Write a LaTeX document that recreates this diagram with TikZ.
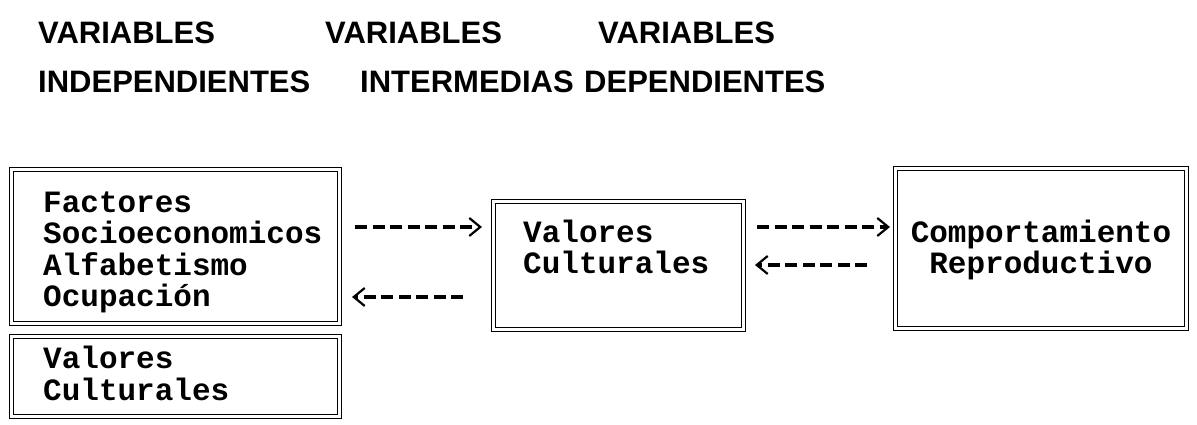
\documentclass[tikz,border=0pt]{standalone}
\usepackage{fontspec}
\setmainfont{Liberation Sans}
\setmonofont{Liberation Mono}
\usepackage{tikz}
\usetikzlibrary{arrows.meta,calc,positioning}

\begin{document}
\begin{tikzpicture}[x=1pt,y=-1pt,
	head/.style={font=\fontsize{31}{31}\selectfont\bfseries,anchor=base west,inner sep=0},
	box/.style={draw,double,line width=1.4pt,double distance=2.6pt,inner sep=0,outer sep=0,anchor=north west},
	txt/.style={font=\fontsize{31}{31.5}\selectfont\ttfamily\bfseries,align=left,inner sep=0,anchor=base west},
	dasharrow/.style={line width=3.2pt,dash pattern=on 12pt off 5.5pt,-{Straight Barb[length=11pt,width=18pt,line width=2.2pt]}}]
	\useasboundingbox (0,0) rectangle (1197,425);
	% encabezados
	\node[head] (v1) at (38,44) {VARIABLES};
	\node[head] (v2) at (325,44) {VARIABLES};
	\node[head] (v3) at (598,44) {VARIABLES};
	\node[head] (ind) at (38,93) {INDEPENDIENTES};
	\node[head] (inter) at (360,93) {INTERMEDIAS};
	\node[head] (dep) at (584,93) {DEPENDIENTES};
	% cajas
	\node[box,minimum width=328pt,minimum height=154pt] (factores) at (11.5,169.5) {};
	\node[box,minimum width=328pt,minimum height=80pt] (valizq) at (11.5,336.5) {};
	\node[box,minimum width=250pt,minimum height=128pt] (valores) at (493.5,201.5) {};
	\node[box,minimum width=291pt,minimum height=160pt] (comport) at (895.5,168.5) {};
	% textos (base = ultima linea)
	\node[txt] (tfac) at (43,306.5) {Factores\\Socioeconomicos\\Alfabetismo\\Ocupación};
	\node[txt] (tval) at (43,400) {Valores\\Culturales};
	\node[txt] (tvalm) at (523,273.5) {Valores\\Culturales};
	\node[txt,align=center,anchor=base] (tcom) at (1041,273.5) {Comportamiento\\Reproductivo};
	% flechas
	\coordinate (fila1) at (0,227);
	\coordinate (fila2) at (0,265);
	\coordinate (fila3) at (0,297);
	\draw[dasharrow,shorten <=15.5pt,shorten >=11.5pt] (factores.east |- fila1) -- (valores.west |- fila1);
	\draw[dasharrow,shorten <=30.5pt,shorten >=12.5pt] (valores.west |- fila3) -- (factores.east |- fila3);
	\draw[dasharrow,shorten <=13.5pt,shorten >=5.5pt] (valores.east |- fila1) -- (comport.west |- fila1);
	\draw[dasharrow,shorten <=28.5pt,shorten >=11.5pt] (comport.west |- fila2) -- (valores.east |- fila2);
\end{tikzpicture}
\end{document}
